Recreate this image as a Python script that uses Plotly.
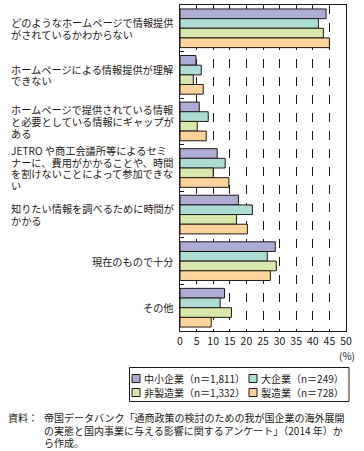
import plotly.graph_objects as go

categories = [
    "どのようなホームページで情報提供がされているかわからない",
    "ホームページによる情報提供が理解できない",
    "ホームページで提供されている情報と必要としている情報にギャップがある",
    "JETRO や商工会議所等によるセミナーに、費用がかかることや、時間を割けないことによって参加できない",
    "知りたい情報を調べるために時間がかかる",
    "現在のもので十分",
    "その他",
]
category_lines = [
    ["どのようなホームページで情報提供", "がされているかわからない"],
    ["ホームページによる情報提供が理解", "できない"],
    ["ホームページで提供されている情報", "と必要としている情報にギャップが", "ある"],
    ["JETRO や商工会議所等によるセミ", "ナーに、費用がかかることや、時間", "を割けないことによって参加できな", "い"],
    ["知りたい情報を調べるために時間が", "かかる"],
    ["現在のもので十分"],
    ["その他"],
]
label_align = ["left", "left", "left", "left", "left", "right", "right"]

series_names = ["中小企業（n＝1,811）", "大企業（n＝249）", "非製造業（n＝1,332）", "製造業（n＝728）"]
small_firms = [44.0, 4.8, 5.8, 11.2, 17.6, 28.7, 13.4]
large_firms = [41.7, 6.4, 8.5, 13.6, 21.8, 26.3, 12.1]
non_manufacturing = [43.2, 4.0, 5.2, 10.0, 17.0, 29.0, 15.5]
manufacturing = [45.0, 7.0, 7.9, 14.7, 20.3, 27.2, 9.4]
series_values = [small_firms, large_firms, non_manufacturing, manufacturing]
colors = ["#acacd4", "#acdcd4", "#d8e8ac", "#fcd49c"]

x_ticks = list(range(0, 55, 5))

FONT = "Noto Sans CJK JP"
INK = "#231815"

# plot area in pixels
L, R, T, B = 180, 346, 5, 331


def px_x(px):
    return (px - L) / (R - L)


def px_y(py):
    return (B - py) / (B - T)


fig = go.Figure()
for name, vals, col in zip(series_names, series_values, colors):
    fig.add_trace(go.Bar(
        y=categories, x=vals, name=name, orientation="h",
        marker=dict(color=col, line=dict(color=INK, width=1)),
        showlegend=False, hoverinfo="skip",
    ))

annotations = []
shapes = []
LINE_H = 11.6
for cat, lines, al in zip(categories, category_lines, label_align):
    n = len(lines)
    for k, line in enumerate(lines):
        shift = ((n - 1) / 2 - k) * LINE_H
        if al == "left":
            annotations.append(dict(x=px_x(9), xref="paper", y=cat, yref="y", yshift=shift,
                                    text=line, showarrow=False, xanchor="left", align="left",
                                    yanchor="middle", font=dict(size=10.2, color=INK, family=FONT)))
        else:
            annotations.append(dict(x=px_x(176), xref="paper", y=cat, yref="y", yshift=shift,
                                    text=line, showarrow=False, xanchor="right", align="right",
                                    yanchor="middle", font=dict(size=10.2, color=INK, family=FONT)))

annotations.append(dict(x=px_x(357), xref="paper", y=px_y(346), yref="paper",
                        text="(%)", showarrow=False, xanchor="right", yanchor="top",
                        font=dict(size=10, color=INK, family=FONT)))

# legend (two columns, two rows) drawn from the series names and colours
legend_box = dict(x0=px_x(129.5), x1=px_x(349), y0=px_y(367.5), y1=px_y(401.5))
shapes.append(dict(type="rect", xref="paper", yref="paper", line=dict(color=INK, width=1),
                   fillcolor="white", **legend_box))
col_x = [132, 249]
row_y = [378.5, 392.5]
for i, (name, col) in enumerate(zip(series_names, colors)):
    cx = col_x[i % 2]
    cy = row_y[i // 2]
    shapes.append(dict(type="rect", xref="paper", yref="paper",
                       x0=px_x(cx), x1=px_x(cx + 8), y0=px_y(cy - 4), y1=px_y(cy + 4),
                       fillcolor=col, line=dict(color=INK, width=1)))
    annotations.append(dict(x=px_x(cx + 10), xref="paper", y=px_y(cy), yref="paper",
                            text=name, showarrow=False, xanchor="left", yanchor="middle",
                            font=dict(size=10, color=INK, family=FONT)))

annotations.append(dict(x=px_x(6), xref="paper", y=px_y(408), yref="paper",
                        text="資料：", showarrow=False, xanchor="left", yanchor="top", align="left",
                        font=dict(size=10, color=INK, family=FONT)))
source_lines = [
    "帝国データバンク「通商政策の検討のための我が国企業の海外展開",
    "の実態と国内事業に与える影響に関するアンケート」（2014 年）か",
    "ら作成。",
]
for k, line in enumerate(source_lines):
    annotations.append(dict(x=px_x(42), xref="paper", y=px_y(408 + 12.5 * k), yref="paper",
                            text=line, showarrow=False, xanchor="left", yanchor="top", align="left",
                            font=dict(size=10, color=INK, family=FONT)))

fig.update_layout(
    width=364, height=451,
    margin=dict(l=L, r=364 - R, t=T, b=451 - B, autoexpand=False),
    barmode="group", bargap=0.17, bargroupgap=0,
    plot_bgcolor="white", paper_bgcolor="white",
    font=dict(family=FONT, size=10, color=INK),
    showlegend=False,
    hovermode=False,
    annotations=annotations,
    shapes=shapes,
    xaxis=dict(range=[0, 50], tickvals=x_ticks, ticktext=[str(v) for v in x_ticks],
               showgrid=True, gridcolor=INK, griddash="dash", gridwidth=1,
               showline=True, linecolor=INK, linewidth=1, mirror=True,
               ticks="", zeroline=False, tickfont=dict(size=10.5)),
    yaxis=dict(autorange="reversed", showticklabels=False, showline=True, linecolor=INK,
               linewidth=1, mirror=True, ticks="inside", ticklen=4, tickcolor=INK,
               tickson="boundaries", showgrid=False),
)

fig.write_html("out.html", config={"displayModeBar": False, "staticPlot": True},
               post_script="document.body.style.margin='0';")
